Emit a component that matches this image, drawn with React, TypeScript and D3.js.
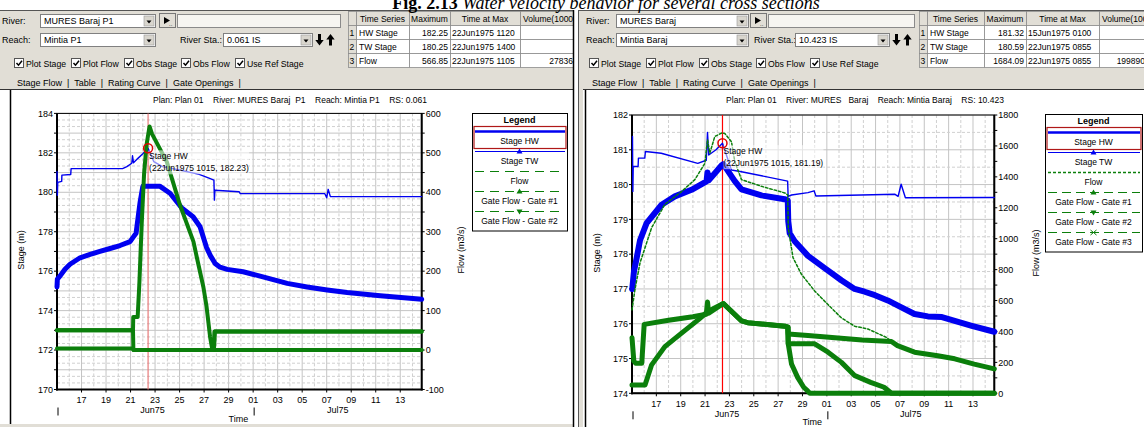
import React from 'react';
import * as d3 from 'd3';

type Pt = [number, number];

// ---------- time base: days after 15 Jun 1975 00:00 ----------
const T_START = Date.UTC(1975, 5, 15);
const T_SPAN = 29.75;
const CURSOR_T = 7.43; // 22Jun1975 1015
const toDate = (t: number) => new Date(T_START + t * 86400000);

const FONT = "'Liberation Sans', Arial, Helvetica, sans-serif";
const SERIF = "'Liberation Serif', 'Times New Roman', serif";
const BLUE = '#0000f0';
const GREEN = '#0b7f0b';
const UI_BG = '#e1ded6';

const figTitleBold = 'Fig. 2.13 ';
const figTitleItalic = 'Water velocity behavior for several cross sections';
const checkLabels = ['Plot Stage', 'Plot Flow', 'Obs Stage', 'Obs Flow', 'Use Ref Stage'];
const tabText = 'Stage Flow  |  Table  |  Rating Curve  |  Gate Openings  |';
const tableHead = ['', 'Time Series', 'Maximum', 'Time at Max', 'Volume(1000'];

// ---------- LEFT window (RS 0.061) ----------
const L_river = 'MURES Baraj  P1';
const L_reach = 'Mintia P1';
const L_sta = '0.061    IS';
const L_rowNames = ['HW Stage', 'TW Stage', 'Flow'];
const L_rowMax = ['182.25', '180.25', '566.85'];
const L_rowTime = ['22Jun1975 1120', '22Jun1975 1400', '22Jun1975 1105'];
const L_rowVol = ['', '', '27836'];
const L_plan = 'Plan: Plan 01    River: MURES Baraj  P1    Reach: Mintia P1    RS: 0.061';
const L_stageTicks = [170, 172, 174, 176, 178, 180, 182, 184];
const L_flowTicks = [-100, 0, 100, 200, 300, 400, 500, 600];
const L_label = '(22Jun1975 1015, 182.23)';
const L_hwAtCursor = 182.23;
const L_legend = ['Stage HW', 'Stage TW', 'Flow', 'Gate Flow - Gate #1', 'Gate Flow - Gate #2'];

// stage (m)
const L_hw: Pt[] = [[0, 181.05], [0.03, 179.85], [0.06, 180.5], [0.38, 180.55], [0.4, 180.87], [1.12, 180.9], [1.15, 181.2], [5.35, 181.2], [5.7, 181.3], [6.1, 181.47], [6.16, 181.85], [6.24, 181.5], [6.6, 181.72], [7.0, 181.95], [7.43, 182.23], [7.9, 181.55], [8.6, 181.3], [10.0, 181.13], [11.6, 180.91], [12.4, 180.72], [12.8, 180.62], [12.84, 179.6], [12.88, 180.1], [14.85, 180.03], [14.95, 179.93], [21.85, 179.93], [22.0, 179.72], [22.12, 180.15], [22.3, 179.78], [29.75, 179.78]];
const L_tw: Pt[] = [[0, 175.2], [0.03, 175.6], [0.24, 175.75], [0.65, 176.1], [1.06, 176.35], [1.88, 176.68], [2.7, 176.85], [3.5, 177.0], [4.33, 177.15], [5.14, 177.3], [5.96, 177.5], [6.25, 177.75], [6.45, 177.92], [6.55, 178.4], [6.78, 179.5], [7.0, 180.3], [8.41, 180.3], [9.22, 179.95], [10.18, 179.2], [11.1, 178.76], [11.67, 178.25], [12.2, 177.2], [12.5, 176.8], [12.9, 176.39], [13.3, 176.2], [13.88, 176.09], [15.18, 175.97], [16.57, 175.75], [18.78, 175.38], [20.4, 175.2], [22.04, 175.05], [23.67, 174.92], [26.37, 174.75], [29.75, 174.58]];
// flow (m3/s)
const L_flow: Pt[] = [[0, 50], [6.2, 50], [6.22, 84], [6.58, 84], [6.72, 170], [6.91, 320], [7.1, 445], [7.3, 520], [7.55, 567], [7.75, 548], [8.96, 477], [10.04, 367], [11.13, 275], [11.4, 236], [11.94, 160], [12.2, 110], [12.49, 33], [12.63, 8], [12.8, 2], [12.86, 47], [29.75, 47]];
const L_gate1: Pt[] = [[0, 50], [6.2, 50], [6.23, 0], [12.8, 0], [12.86, 47], [29.75, 47]];
const L_gate2: Pt[] = [[0, 4], [6.2, 4], [6.25, 0], [29.75, 0]];

// ---------- RIGHT window (RS 10.423) ----------
const R_river = 'MURES   Baraj';
const R_reach = 'Mintia Baraj';
const R_sta = '10.423   IS';
const R_rowNames = ['HW Stage', 'TW Stage', 'Flow'];
const R_rowMax = ['181.32', '180.59', '1684.09'];
const R_rowTime = ['15Jun1975 0100', '22Jun1975 0855', '22Jun1975 0855'];
const R_rowVol = ['', '', '199890'];
const R_plan = 'Plan: Plan 01    River: MURES   Baraj    Reach: Mintia Baraj    RS: 10.423';
const R_stageTicks = [174, 175, 176, 177, 178, 179, 180, 181, 182];
const R_flowTicks = [0, 200, 400, 600, 800, 1000, 1200, 1400, 1600, 1800];
const R_label = '(22Jun1975 1015, 181.19)';
const R_hwAtCursor = 181.19;
const R_legend = ['Stage HW', 'Stage TW', 'Flow', 'Gate Flow - Gate #1', 'Gate Flow - Gate #2', 'Gate Flow - Gate #3'];

const R_hw: Pt[] = [[0.04, 181.38], [0.07, 179.8], [0.1, 180.52], [0.5, 180.52], [0.53, 180.76], [1.05, 180.76], [1.1, 180.95], [2.4, 180.9], [5.4, 180.61], [6.1, 180.7], [6.2, 181.5], [6.3, 180.85], [6.9, 181.0], [7.43, 181.19], [7.8, 180.8], [8.17, 180.42], [8.99, 180.37], [12.78, 180.1], [12.82, 179.66], [13.1, 179.7], [14.45, 179.77], [14.95, 179.82], [15.1, 179.67], [21.6, 179.72], [21.85, 179.66], [22.1, 180.01], [22.45, 179.62], [29.75, 179.63]];
const R_tw: Pt[] = [[0.02, 177.0], [0.16, 177.5], [0.39, 177.9], [0.66, 178.4], [1.2, 178.89], [2.43, 179.42], [3.52, 179.66], [4.89, 179.85], [6.12, 180.09], [6.2, 180.35], [6.3, 180.12], [7.35, 180.55], [7.5, 180.59], [8.44, 180.1], [8.99, 179.86], [10.63, 179.69], [12.54, 179.58], [12.79, 179.55], [12.83, 178.95], [12.95, 178.6], [13.36, 178.37], [14.45, 177.95], [15.82, 177.6], [17.19, 177.25], [18.28, 177.0], [19.1, 176.92], [19.95, 176.82], [21.0, 176.67], [22.0, 176.49], [23.2, 176.28], [24.3, 176.21], [25.45, 176.19], [26.5, 176.08], [27.9, 175.94], [29.75, 175.77]];
const R_flow: Pt[] = [[0, 540], [0.25, 675], [0.66, 844], [1.61, 1071], [2.7, 1222], [4.07, 1305], [5.16, 1382], [5.98, 1487], [6.2, 1640], [6.39, 1553], [6.8, 1661], [7.37, 1684], [7.62, 1681], [8.17, 1627], [8.44, 1499], [8.99, 1382], [10.63, 1339], [12.54, 1296], [12.79, 1283], [12.83, 1069], [13.22, 878], [13.91, 770], [15.0, 662], [16.09, 574], [17.19, 488], [18.28, 434], [19.37, 416], [20.88, 362], [21.8, 308], [23.2, 266], [25.1, 243], [26.5, 223], [28.1, 189], [29.75, 158]];
const R_gateA: Pt[] = [[0, 360], [0.15, 209], [0.3, 194], [0.8, 194], [1.0, 446], [3.0, 472], [5.0, 495], [6.1, 511], [6.2, 590], [6.3, 518], [7.5, 581], [9.0, 468], [9.5, 457], [12.55, 434], [12.8, 428], [12.83, 383], [14.45, 374], [18.9, 344], [21.3, 335], [21.8, 308], [23.2, 266], [25.1, 243], [26.5, 223], [28.1, 189], [29.75, 158]];
const R_gateB: Pt[] = [[0, 54], [1.07, 54], [1.6, 182], [2.7, 302], [4.07, 389], [5.43, 475], [6.23, 529], [7.5, 581], [9.0, 468], [9.5, 457], [12.55, 434], [12.8, 428], [12.83, 320], [15.0, 320], [16.1, 266], [17.2, 200], [18.3, 114], [19.6, 71], [20.7, 39], [21.3, 0], [29.75, 0]];
const R_gateC: Pt[] = [[12.8, 428], [12.83, 320], [13.1, 189], [13.6, 103], [14.1, 39], [14.4, 17], [14.6, 0], [29.75, 0]];

// ---------- small UI widgets ----------
function Dropdown({ x, y, w, h, text }: any) {
  return (
    <g>
      <rect x={x + 0.5} y={y + 0.5} width={w} height={h} fill="#fff" stroke="#808080" />
      <text x={x + 4} y={y + h - 3} fontSize={9}>{text}</text>
      <rect x={x + w - 11} y={y + 2} width={10} height={h - 3} fill="#d8d5cd" stroke="#9a9a9a" strokeWidth={0.6} />
      <path d={`M${x + w - 8.5},${y + h / 2} l5,0 l-2.5,3 z`} fill="#000" />
    </g>
  );
}

function Arrow({ x, y, dir }: any) {
  const cx = x + 4.5;
  const d = dir === 'down'
    ? `M${cx - 1.5},${y + 1} h3 v6 h2.7 l-4.2,5.5 l-4.2,-5.5 h2.7 z`
    : `M${cx - 1.5},${y + 12.5} h3 v-6 h2.7 l-4.2,-5.5 l-4.2,5.5 h2.7 z`;
  return <path d={d} fill="#000" />;
}

function Header({ p }: any) {
  const rowsY = [11, 25, 39, 53, 67];
  const cols = p.cols;
  const cbOff = [0, 57, 110, 167, 221];
  return (
    <g fontFamily={FONT} fill="#000">
      <text x={p.lbl} y={24} fontSize={9}>River:</text>
      <Dropdown x={p.dd[0]} y={14} w={p.dd[1] - p.dd[0]} h={13} text={p.river} />
      <rect x={p.play + 0.5} y={13.5} width={16} height={14} fill={UI_BG} stroke="#777" />
      <path d={`M${p.play + 5},${17} l6,3.5 l-6,3.5 z`} fill="#000" />
      <text x={p.play + 10} y={26} fontSize={6}>..</text>
      <rect x={p.tb[0] + 0.5} y={14.5} width={p.tb[1] - p.tb[0]} height={13} fill="#f6f5f1" stroke="#8a8a8a" />
      <text x={p.lbl} y={43} fontSize={9}>Reach:</text>
      <Dropdown x={p.dd[0]} y={33} w={p.dd[1] - p.dd[0]} h={13} text={p.reach} />
      <text x={p.staLbl} y={43} fontSize={9}>River Sta.:</text>
      <Dropdown x={p.staDD[0]} y={33} w={p.staDD[1] - p.staDD[0]} h={13} text={p.sta} />
      <Arrow x={p.arrows} y={33} dir="down" />
      <Arrow x={p.arrows + 11} y={33} dir="up" />
      {checkLabels.map((lab, i) => {
        const bx = p.cb + cbOff[i];
        return (
          <g key={lab}>
            <rect x={bx + 0.5} y={58.5} width={9} height={9} fill="#fff" stroke="#555" />
            <path d={`M${bx + 2.5},${63} l2,2.2 l3.5,-4.5`} fill="none" stroke="#000" strokeWidth={1.5} />
            <text x={bx + 12} y={66.5} fontSize={8.7}>{lab}</text>
          </g>
        );
      })}
      <text x={p.tabs} y={86} fontSize={9} xmlSpace="preserve">{tabText}</text>
      {/* table */}
      {rowsY.slice(0, 4).map((ry, r) =>
        cols.slice(0, 5).map((cx0: number, c: number) => (
          <rect key={`c${r}-${c}`} x={cx0 + 0.5} y={ry + 0.5} width={cols[c + 1] - cx0} height={14}
            fill={r === 0 || c === 0 ? UI_BG : '#fff'} stroke="#8c8c8c" strokeWidth={0.8} />
        ))
      )}
      {tableHead.map((t, c) => (
        c === 0 ? null :
          <text key={'h' + c} x={c === 4 ? cols[c] + 3 : (cols[c] + cols[c + 1]) / 2} y={21.5} fontSize={8.5}
            textAnchor={c === 4 ? 'start' : 'middle'}>{t}</text>
      ))}
      {p.names.map((nm: string, r: number) => {
        const by = rowsY[r + 1] + 10.5;
        return (
          <g key={nm} fontSize={8.5}>
            <text x={cols[0] + 1.5} y={by}>{r + 1}</text>
            <text x={cols[1] + 3} y={by}>{nm}</text>
            <text x={cols[3] - 2} y={by} textAnchor="end">{p.max[r]}</text>
            <text x={cols[3] + 2} y={by}>{p.time[r]}</text>
            <text x={p.volRight} y={by} textAnchor="end">{p.vol[r]}</text>
          </g>
        );
      })}
    </g>
  );
}

// ---------- legend ----------
function Legend({ x, y, w, items }: any) {
  const h = 18.5 + items.length * 20 - 1;
  const cx = x + w / 2;
  return (
    <g fontFamily={FONT}>
      <rect x={x + 0.5} y={y + 0.5} width={w} height={h} fill="#fff" stroke="#000" />
      <text x={cx} y={y + 10} textAnchor="middle" fontWeight="bold" fontSize={9}>Legend</text>
      <rect x={x + 2} y={y + 13.5} width={w - 3} height={22} fill="none" stroke="#b01818" strokeWidth={1.2} />
      {items.map((it: any, i: number) => {
        const ly = y + 18.5 + i * 20;
        let mk = null;
        if (it.marker === 'up') mk = <path d={`M${cx - 3},${ly + 2} L${cx + 3},${ly + 2} L${cx},${ly - 3} Z`} fill={it.color} />;
        if (it.marker === 'down') mk = <path d={`M${cx - 3},${ly - 2} L${cx + 3},${ly - 2} L${cx},${ly + 3} Z`} fill={it.color} />;
        if (it.marker === 'x') mk = <path d={`M${cx - 3},${ly - 2.5} L${cx + 3},${ly + 2.5} M${cx + 3},${ly - 2.5} L${cx - 3},${ly + 2.5}`} stroke={it.color} strokeWidth={1} />;
        return (
          <g key={it.label}>
            <line x1={x + 3} x2={x + w - 2} y1={ly} y2={ly} stroke={it.color} strokeWidth={it.w} strokeDasharray={it.dash} />
            {mk}
            <text x={cx} y={ly + 12.7} textAnchor="middle" fontSize={8.5}>{it.label}</text>
          </g>
        );
      })}
    </g>
  );
}

// ---------- chart ----------
function Chart({ c }: any) {
  const x = d3.scaleUtc().domain([toDate(0), toDate(T_SPAN)]).range([c.x0, c.x1]);
  const ys = d3.scaleLinear().domain(c.stageDomain).range([c.bottom, c.top]);
  const yf = d3.scaleLinear().domain(c.flowDomain).range([c.bottom, c.top]);
  const xt = (t: number) => x(toDate(t));
  const mkLine = (ax: string) => d3.line<Pt>().x(d => xt(d[0])).y(d => (ax === 's' ? ys : yf)(d[1]));
  const days = d3.utcDay.range(toDate(0.5), toDate(T_SPAN));
  const labelDays = d3.utcDay.every(2)!.range(toDate(0.5), toDate(T_SPAN));
  const [s0, s1] = c.stageDomain;
  const nH = Math.round((s1 - s0) / c.gridStep);
  const hLines = d3.range(0, nH + 1).map(i => s0 + i * c.gridStep);
  const minorStage = d3.range(s0, s1 + 0.001, 1);
  const minorFlow = d3.range(c.flowDomain[0], c.flowDomain[1] + 0.001, c.flowMinor);
  const cx = xt(CURSOR_T);
  const cy = ys(c.hwAtCursor);
  const fmtDay = d3.utcFormat('%d');
  return (
    <g fontFamily={FONT}>
      <text x={c.planX} y={103} fontSize={8.5} textAnchor="middle" xmlSpace="preserve">{c.plan}</text>
      {/* grid */}
      {days.map((d, i) => {
        const odd = d.getUTCDate() % 2 === 1;
        return <line key={'v' + i} x1={x(d)} x2={x(d)} y1={c.top} y2={c.bottom}
          stroke={odd ? '#c4c4c4' : '#d0d0d0'} strokeWidth={1} strokeDasharray={odd ? undefined : '3 2'} />;
      })}
      {hLines.map((v, i) => {
        const major = Math.abs(v - Math.round(v)) < 1e-6;
        return <line key={'h' + i} x1={c.x0} x2={c.x1} y1={ys(v)} y2={ys(v)}
          stroke={major ? '#c4c4c4' : '#d0d0d0'} strokeWidth={1} strokeDasharray={major ? undefined : '3 2'} />;
      })}
      {/* frame and axes */}
      <rect x={c.x0} y={c.top} width={c.x1 - c.x0} height={c.bottom - c.top} fill="none" stroke="#000" strokeWidth={1} />
      <line x1={c.x0} x2={c.x0} y1={c.top} y2={c.bottom + 1} stroke="#000" strokeWidth={2} />
      <line x1={c.x1} x2={c.x1} y1={c.top} y2={c.bottom + 1} stroke="#000" strokeWidth={2} />
      <line x1={c.x0 - 1} x2={c.x1 + 1} y1={c.bottom} y2={c.bottom} stroke="#000" strokeWidth={2} />
      {minorStage.map((v, i) => (
        <line key={'ms' + i} x1={c.x0 - 3} x2={c.x0} y1={ys(v)} y2={ys(v)} stroke="#000" />
      ))}
      {c.stageTicks.map((v: number) => (
        <text key={'st' + v} x={c.x0 - 4} y={ys(v) + 3.2} fontSize={9} textAnchor="end">{v}</text>
      ))}
      {minorFlow.map((v, i) => (
        <line key={'mf' + i} x1={c.x1} x2={c.x1 + 3} y1={yf(v)} y2={yf(v)} stroke="#000" />
      ))}
      {c.flowTicks.map((v: number) => (
        <text key={'ft' + v} x={c.x1 + 4} y={yf(v) + 3.2} fontSize={9}>{v}</text>
      ))}
      {labelDays.map((d, i) => (
        <g key={'xl' + i}>
          <line x1={x(d)} x2={x(d)} y1={c.bottom} y2={c.bottom + 3} stroke="#000" />
          <text x={x(d)} y={c.bottom + 13.5} fontSize={9} textAnchor="middle">{fmtDay(d)}</text>
        </g>
      ))}
      {[0, 16].map(t => (
        <line key={'mm' + t} x1={xt(t) + 1} x2={xt(t) + 1} y1={c.bottom + 18} y2={c.bottom + 26} stroke="#000" strokeWidth={1} />
      ))}
      <text x={xt(7.8)} y={c.bottom + 23.5} fontSize={9} textAnchor="middle">Jun75</text>
      <text x={xt(22.9)} y={c.bottom + 23.5} fontSize={9} textAnchor="middle">Jul75</text>
      <text x={xt(14.8)} y={c.bottom + 32} fontSize={9} textAnchor="middle">Time</text>
      <text transform={`translate(${c.stageTitleX + 3.5},${c.titleY}) rotate(-90)`} fontSize={9} textAnchor="middle">Stage (m)</text>
      <text transform={`translate(${c.flowTitleX + 3.5},${c.titleY}) rotate(-90)`} fontSize={9} textAnchor="middle">Flow (m3/s)</text>
      {/* cursor */}
      <line x1={cx} x2={cx} y1={c.top} y2={c.bottom} stroke={c.cursorColor} strokeWidth={1.2} />
      {/* data */}
      {c.series.map((s: any, i: number) => (
        <path key={'s' + i} d={mkLine(s.ax)(s.d) || ''} fill="none" stroke={s.color} strokeWidth={s.w}
          strokeDasharray={s.dash} strokeLinejoin="round" strokeLinecap="round" />
      ))}
      {/* annotation */}
      <rect x={cx + 1} y={cy + 2} width={100} height={24} fill="#fff" opacity={0.55} />
      <circle cx={cx} cy={cy} r={4.5} fill="none" stroke="#e00000" strokeWidth={1.5} />
      <text x={cx + 1} y={cy + 10.5} fontSize={8.5}>Stage HW</text>
      <text x={cx + 1} y={cy + 22.5} fontSize={8.5}>{c.label}</text>
      <Legend x={c.legendX} y={c.legendY} w={c.legendW} items={c.legend} />
    </g>
  );
}

const leftChart = {
  x0: 57, x1: 421.7, top: 113.4, bottom: 389.5,
  stageDomain: [170, 184], flowDomain: [-100, 600],
  stageTicks: L_stageTicks, flowTicks: L_flowTicks, gridStep: 1 / 3, flowMinor: 50,
  stageTitleX: 20, flowTitleX: 460, titleY: 250, planX: 290, plan: L_plan,
  cursorColor: '#e87a7a', hwAtCursor: L_hwAtCursor, label: L_label,
  legendX: 472, legendY: 113, legendW: 95,
  legend: [
    { label: L_legend[0], color: BLUE, w: 2.5 },
    { label: L_legend[1], color: BLUE, w: 1, marker: 'up' },
    { label: L_legend[2], color: GREEN, w: 1, dash: '9 6' },
    { label: L_legend[3], color: GREEN, w: 1, dash: '9 6', marker: 'up' },
    { label: L_legend[4], color: GREEN, w: 1, dash: '9 6', marker: 'down' },
  ],
  series: [
    { d: L_tw, ax: 's', color: BLUE, w: 5 },
    { d: L_hw, ax: 's', color: BLUE, w: 1.4 },
    { d: L_gate2, ax: 'f', color: GREEN, w: 4 },
    { d: L_gate1, ax: 'f', color: GREEN, w: 4 },
    { d: L_flow, ax: 'f', color: GREEN, w: 4 },
  ],
};

const rightChart = {
  x0: 632, x1: 994.3, top: 115, bottom: 393.3,
  stageDomain: [174, 182], flowDomain: [0, 1800],
  stageTicks: R_stageTicks, flowTicks: R_flowTicks, gridStep: 0.5, flowMinor: 100,
  stageTitleX: 596, flowTitleX: 1035, titleY: 253, planX: 865, plan: R_plan,
  cursorColor: '#ff0000', hwAtCursor: R_hwAtCursor, label: R_label,
  legendX: 1045, legendY: 114, legendW: 97,
  legend: [
    { label: R_legend[0], color: BLUE, w: 2.5 },
    { label: R_legend[1], color: BLUE, w: 1, marker: 'up' },
    { label: R_legend[2], color: GREEN, w: 1.6, dash: '3 2' },
    { label: R_legend[3], color: GREEN, w: 1, dash: '9 5', marker: 'up' },
    { label: R_legend[4], color: GREEN, w: 1, dash: '9 5', marker: 'down' },
    { label: R_legend[5], color: GREEN, w: 1, dash: '9 5', marker: 'x' },
  ],
  series: [
    { d: R_tw, ax: 's', color: BLUE, w: 6 },
    { d: R_hw, ax: 's', color: BLUE, w: 1.4 },
    { d: R_gateC, ax: 'f', color: GREEN, w: 5 },
    { d: R_gateB, ax: 'f', color: GREEN, w: 5 },
    { d: R_gateA, ax: 'f', color: GREEN, w: 5 },
    { d: R_flow, ax: 'f', color: GREEN, w: 1.5, dash: '2.5 2' },
  ],
};

const leftHeader = {
  lbl: 2, dd: [40, 155], play: 159, tb: [177, 340], staLbl: 180, staDD: [223, 312], arrows: 315,
  cb: 14, tabs: 17, cols: [348, 356, 409, 450, 520, 600], volRight: 573,
  river: L_river, reach: L_reach, sta: L_sta, names: L_rowNames, max: L_rowMax, time: L_rowTime, vol: L_rowVol,
};
const rightHeader = {
  lbl: 586, dd: [616, 748], play: 750, tb: [768, 914], staLbl: 754, staDD: [795, 889], arrows: 892,
  cb: 589, tabs: 592, cols: [919, 927, 984, 1026, 1099, 1170], volRight: 1145,
  river: R_river, reach: R_reach, sta: R_sta, names: R_rowNames, max: R_rowMax, time: R_rowTime, vol: R_rowVol,
};

export default function App() {
  return (
    <svg width={1144} height={427} viewBox="0 0 1144 427"
      style={{ position: 'absolute', left: 0, top: 0, background: '#fff' }}>
      <defs>
        <clipPath id="clipL"><rect x={0} y={0} width={574} height={427} /></clipPath>
      </defs>
      <rect x={0} y={0} width={1144} height={427} fill="#fff" />
      {/* left window */}
      <g clipPath="url(#clipL)">
        <rect x={0} y={10} width={575} height={417} fill={UI_BG} />
        <line x1={0} x2={575} y1={10.5} y2={10.5} stroke="#555" />
        <rect x={0} y={89} width={573} height={335} fill="#fff" />
        <line x1={0} x2={573} y1={89.5} y2={89.5} stroke="#333" />
        <line x1={10.5} x2={10.5} y1={90} y2={424} stroke="#000" strokeWidth={1.5} />
        <Header p={leftHeader} />
        <Chart c={leftChart} />
      </g>
      <line x1={573.5} x2={573.5} y1={10} y2={427} stroke="#000" strokeWidth={1.5} />
      {/* right window */}
      <rect x={578} y={10} width={566} height={417} fill={UI_BG} />
      <line x1={578} x2={1144} y1={10.5} y2={10.5} stroke="#555" />
      <line x1={578.5} x2={578.5} y1={10} y2={427} stroke="#555" />
      <rect x={583} y={89} width={561} height={338} fill="#fff" />
      <line x1={583} x2={1144} y1={89.5} y2={89.5} stroke="#333" />
      <line x1={585.5} x2={585.5} y1={90} y2={427} stroke="#000" strokeWidth={1.5} />
      <Header p={rightHeader} />
      <Chart c={rightChart} />
      {/* figure caption (clipped at the top, as in the source) */}
      <text x={606} y={8.5} textAnchor="middle" fontFamily={SERIF} fontSize={18}>
        <tspan fontWeight="bold">{figTitleBold}</tspan>
        <tspan fontStyle="italic">{figTitleItalic}</tspan>
      </text>
    </svg>
  );
}
